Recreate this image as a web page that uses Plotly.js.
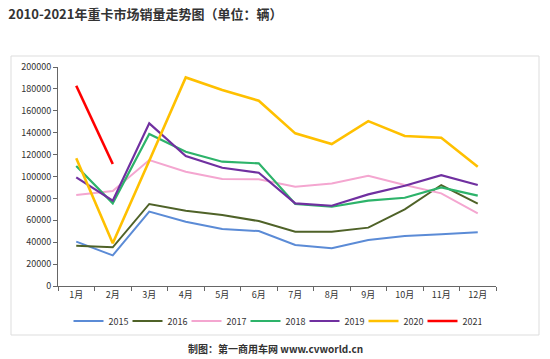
<!DOCTYPE html>
<html><head><meta charset="utf-8">
<script src="https://cdn.plot.ly/plotly-3.0.1.min.js"></script>
<style>html,body{margin:0;padding:0;background:#fff;}#c{width:550px;height:359px;}</style>
</head><body><div id="c"></div>
<script>
const months = ['1月','2月','3月','4月','5月','6月','7月','8月','9月','10月','11月','12月'];
const years = ['2015','2016','2017','2018','2019','2020','2021'];
const s2015 = [40500, 28000, 67900, 58700, 52000, 50200, 37400, 34400, 42000, 45600, 47200, 49000];
const s2016 = [36800, 35300, 74900, 68800, 64800, 59300, 49600, 49600, 53300, 70000, 92200, 75200];
const s2017 = [83100, 86700, 115000, 104400, 97700, 97400, 90700, 93700, 100700, 92200, 84600, 66400];
const s2018 = [109600, 75500, 138800, 122600, 113500, 112000, 74900, 72400, 77900, 80600, 90100, 82500];
const s2019 = [99200, 77900, 148500, 118700, 108000, 103400, 75500, 73300, 83700, 91600, 101300, 92200];
const s2020 = [116600, 39000, 114400, 190500, 179000, 169200, 139400, 129600, 150600, 137000, 135400, 109000];
const s2021 = [182900, 111400];
const seriesData = [s2015, s2016, s2017, s2018, s2019, s2020, s2021];
const colors = ['#5B8BD6', '#4F6228', '#F4A6D0', '#2DB36A', '#7030A0', '#FFC000', '#FF0000'];
const widths = [2, 2, 2, 2.2, 2.2, 2.6, 2.6];

const traces = seriesData.map((d, i) => ({
  type: 'scatter', mode: 'lines', name: years[i],
  x: months.slice(0, d.length), y: d,
  line: {color: colors[i], width: widths[i]}
}));

const L = 58, R = 496, T = 67, B = 286;
const W = R - L, H = B - T;
const px = v => (v - L) / W, py = v => (B - v) / H;

const layout = {
  width: 550, height: 359,
  margin: {l: L, r: 550 - R, t: T, b: 359 - B},
  paper_bgcolor: '#fff', plot_bgcolor: 'rgba(0,0,0,0)',
  font: {family: '"Noto Sans CJK SC", "DejaVu Sans", sans-serif', size: 9, color: '#333'},
  title: {text: '<b>2010-2021年重卡市场销量走势图（单位：辆）</b>', x: 0.015, xanchor: 'left', y: 0.96, yanchor: 'middle',
          font: {size: 13, color: '#333', family: '"Noto Sans CJK SC", sans-serif'}},
  xaxis: {type: 'category', categoryorder: 'array', categoryarray: months, tickson: 'boundaries',
          showline: true, linecolor: '#666', linewidth: 1, ticks: 'outside', ticklen: 4, tickcolor: '#666',
          showgrid: false, zeroline: false, range: [-0.5, 11.5], fixedrange: true,
          tickfont: {size: 9, color: '#333'}},
  yaxis: {range: [0, 200000], dtick: 20000, showline: true, linecolor: '#666', linewidth: 1,
          ticks: 'outside', ticklen: 4, tickcolor: '#666', showgrid: false, zeroline: false,
          tickformat: 'd', tickfont: {size: 9, color: '#333'}},
  showlegend: true,
  legend: {orientation: 'h', x: px(45), xanchor: 'left', y: py(321), yanchor: 'middle',
           font: {size: 9, color: '#333'}, itemwidth: 30, tracegroupgap: 0, bgcolor: 'rgba(0,0,0,0)',
           entrywidth: 14, entrywidthmode: 'pixels'},
  shapes: [{type: 'rect', xref: 'paper', yref: 'paper', x0: px(11), x1: px(539), y0: py(335), y1: py(56),
            line: {color: '#DDDDDD', width: 1}, fillcolor: 'rgba(0,0,0,0)', layer: 'below'}],
  annotations: [{text: '<b>制图：第一商用车网 www.cvworld.cn</b>', xref: 'paper', yref: 'paper',
                 x: px(275), y: py(348), xanchor: 'center', yanchor: 'middle', showarrow: false,
                 font: {size: 10, color: '#333'}}]
};
Plotly.newPlot('c', traces, layout, {displayModeBar: false, staticPlot: true}).then(gd => {
  const bg = gd.querySelector('.legend .bg');
  if (bg) {
    const w = bg.getBBox().width;
    const left = Math.max(12, 275 - w / 2);
    return Plotly.relayout(gd, {'legend.x': px(left)});
  }
});
</script></body></html>
